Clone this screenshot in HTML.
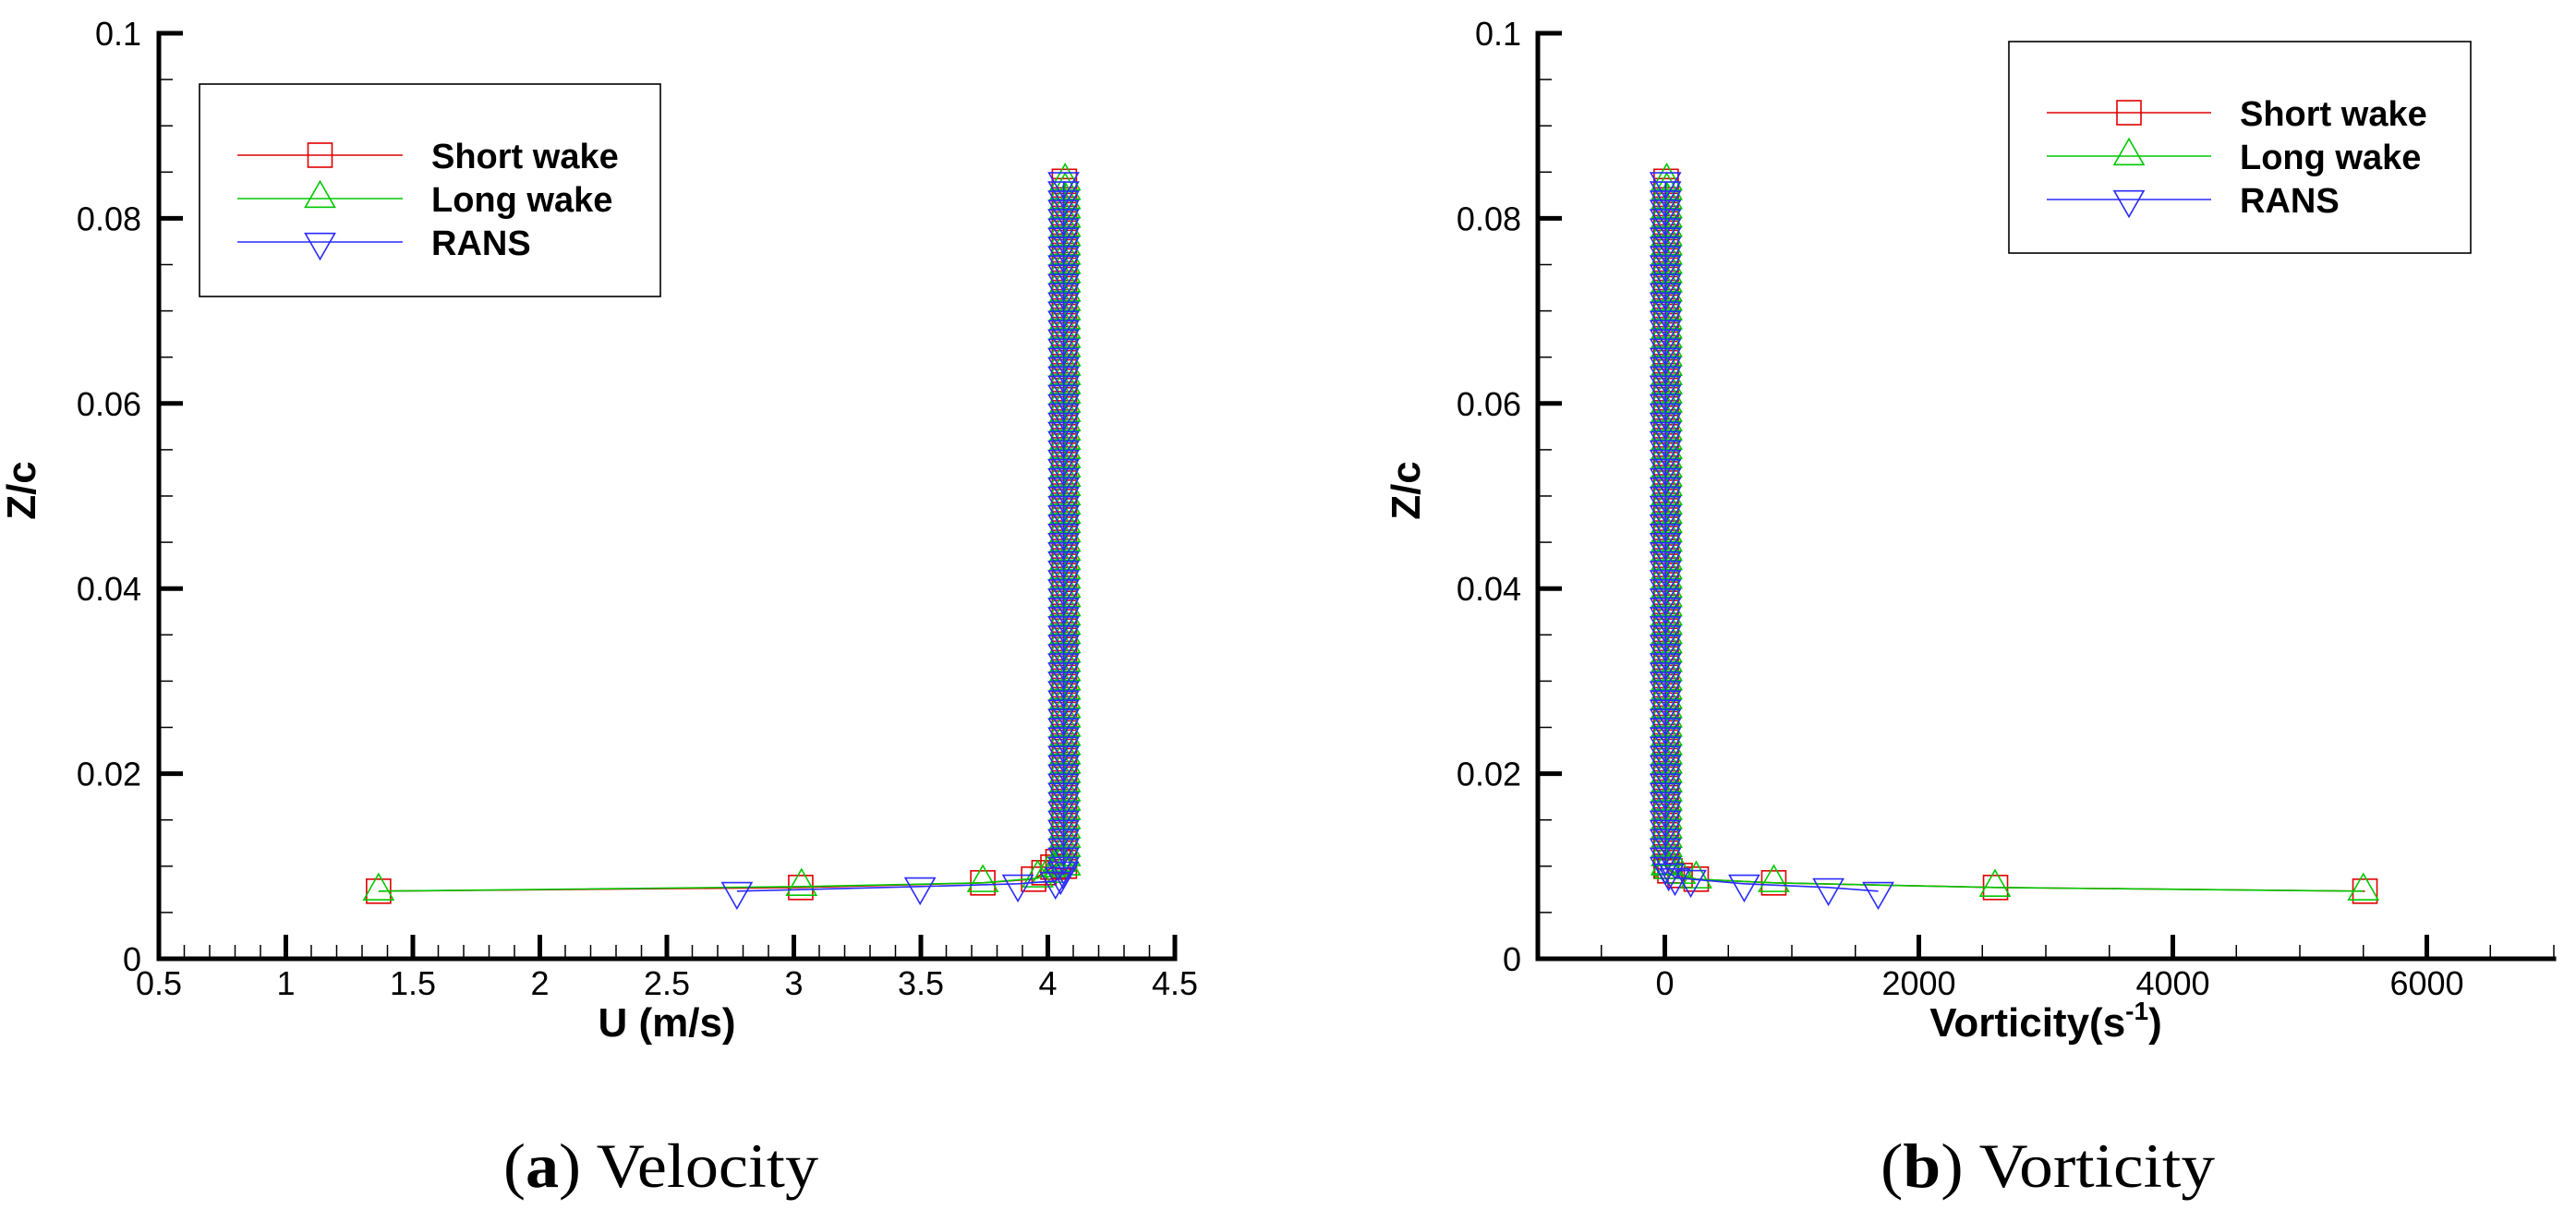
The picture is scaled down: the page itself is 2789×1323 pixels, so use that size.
<!DOCTYPE html>
<html><head><meta charset="utf-8"><style>
html,body{margin:0;padding:0;background:#fff;}
svg{display:block;}
</style></head><body>
<svg id="fig" width="2789" height="1323" viewBox="0 0 2789 1323" xmlns="http://www.w3.org/2000/svg" font-family="Liberation Sans, sans-serif">
<rect x="0" y="0" width="2789" height="1323" fill="#fff"/>
<g id="chartA"></g>
<g id="chartB"></g>
<text x="545" y="1285" font-family="Liberation Serif, serif" font-size="68" textLength="341" lengthAdjust="spacingAndGlyphs">(<tspan font-weight="bold">a</tspan>) Velocity</text>
<text x="2036" y="1285" font-family="Liberation Serif, serif" font-size="68" textLength="362" lengthAdjust="spacingAndGlyphs">(<tspan font-weight="bold">b</tspan>) Vorticity</text>
</svg>
<script>
// ---- data: chart A (velocity) ----
const aTicksX = [0.5,1,1.5,2,2.5,3,3.5,4,4.5];
const aTickLabelsX = ["0.5","1","1.5","2","2.5","3","3.5","4","4.5"];
const ticksZ = [0,0.02,0.04,0.06,0.08,0.1];
const tickLabelsZ = ["0","0.02","0.04","0.06","0.08","0.1"];
const aShortU = [1.365,3.027,3.744,3.944,3.985,4.02,4.04];
const aShortZ = [0.0073,0.0077,0.0082,0.0086,0.0093,0.0099,0.0105];
const aLongU = [1.365,3.03,3.744,3.96,4.0,4.03,4.05];
const aLongZ = [0.0073,0.0078,0.0082,0.0087,0.0092,0.0098,0.0104];
const aRansU = [2.776,3.497,3.882,4.03,4.05,4.06];
const aRansZ = [0.0073,0.0078,0.0081,0.0084,0.0089,0.0095];
const aColumnU = [4.065,4.068,4.062];
// ---- data: chart B (vorticity) ----
const bTicksX = [0,2000,4000,6000];
const bTickLabelsX = ["0","2000","4000","6000"];
const bShortW = [5513,2604,858,247,120,40,15];
const bShortZ = [0.0073,0.0077,0.0082,0.0086,0.0090,0.0095,0.0100];
const bLongW = [5500,2600,858,247,120,40,15];
const bLongZ = [0.0073,0.0077,0.0082,0.0086,0.0091,0.0096,0.0101];
const bRansW = [1680,1288,625,204,80,30];
const bRansZ = [0.0073,0.0077,0.0081,0.0086,0.0088,0.0093];
const bColumnW = [10,15,5];
// ---- shared column levels (Z/c) ----
const columnZ = [0.010,0.011,0.012,0.013,0.014,0.015,0.016,0.017,0.018,0.019,0.020,0.021,0.022,0.023,0.024,0.025,0.026,0.027,0.028,0.029,0.030,0.031,0.032,0.033,0.034,0.035,0.036,0.037,0.038,0.039,0.040,0.041,0.042,0.043,0.044,0.045,0.046,0.047,0.048,0.049,0.050,0.051,0.052,0.053,0.054,0.055,0.056,0.057,0.058,0.059,0.060,0.061,0.062,0.063,0.064,0.065,0.066,0.067,0.068,0.069,0.070,0.071,0.072,0.073,0.074,0.075,0.076,0.077,0.078,0.079,0.080,0.081,0.082,0.083,0.084];
const legendLabels = ["Short wake","Long wake","RANS"];

const NS = "http://www.w3.org/2000/svg";
const colors = ["#e00000","#00c800","#2a2aff"];
function mk(tag, attrs, parent){const e=document.createElementNS(NS,tag);for(const k in attrs)e.setAttribute(k,attrs[k]);parent.appendChild(e);return e;}
const Y0=1038, Y1=36;
function yScale(z){return Y0+(Y1-Y0)*(z/0.1);}

function marker(kind,cx,cy,col,parent){
  let e;
  if(kind===0){e=mk('rect',{x:cx-13,y:cy-13,width:26,height:26,fill:'none',stroke:col,'stroke-width':1.6},parent);}
  else if(kind===1){e=mk('polygon',{points:`${cx-16},${cy+9.3} ${cx+16},${cy+9.3} ${cx},${cy-18.7}`,fill:'none',stroke:col,'stroke-width':1.6},parent);}
  else {e=mk('polygon',{points:`${cx-16},${cy-9.3} ${cx+16},${cy-9.3} ${cx},${cy+18.7}`,fill:'none',stroke:col,'stroke-width':1.6},parent);}
  return e;
}

function drawChart(gid,x0,x1,v0,v1,ticksX,tickLabelsX,minorStep,series,colVals,labelRight,xTitle,zTitleX,legend){
  const g=document.getElementById(gid);
  const xs=v=>x0+(x1-x0)*(v-v0)/(v1-v0);
  series.forEach((s,i)=>{
    const sg=mk('g',{},g);
    
    
    const px=[],py=[];
    s[0].forEach((v,j)=>{px.push(xs(v));py.push(yScale(s[1][j]));});
    columnZ.forEach(z=>{px.push(xs(colVals[i]));py.push(yScale(z));});
    const pl=mk('polyline',{points:px.map((x,j)=>x+','+py[j]).join(' '),fill:'none',stroke:colors[i],'stroke-width':1.6},sg);
    
    
    px.forEach((x,j)=>{const m=marker(i,x,py[j],colors[i],sg);
      
      });
  });
  const ax=mk('g',{stroke:'#000'},g);
  
  
  mk('line',{x1:x0,y1:Y0,x2:x1+2.5,y2:Y0,'stroke-width':5},ax);
  mk('line',{x1:x0,y1:Y0+2.5,x2:x0,y2:Y1-2.5,'stroke-width':5},ax);
  for(let v=v0;v<=v1+1e-9;v+=minorStep){mk('line',{x1:xs(v),y1:Y0,x2:xs(v),y2:Y0-15,'stroke-width':1.5},ax);}
  ticksX.forEach((v,i)=>{mk('line',{x1:xs(v),y1:Y0,x2:xs(v),y2:Y0-26,'stroke-width':5},ax);
    const t=mk('text',{x:xs(v),y:1077,'text-anchor':'middle','font-size':36,stroke:'none',fill:'#000'},g);t.textContent=tickLabelsX[i];
    
    });
  for(let z=0;z<=0.1+1e-9;z+=0.005){mk('line',{x1:x0,y1:yScale(z),x2:x0+15,y2:yScale(z),'stroke-width':1.5},ax);}
  ticksZ.forEach((z,i)=>{mk('line',{x1:x0,y1:yScale(z),x2:x0+26,y2:yScale(z),'stroke-width':5},ax);
    const t=mk('text',{x:labelRight,y:yScale(z)+13,'text-anchor':'end','font-size':36,stroke:'none',fill:'#000'},g);t.textContent=tickLabelsZ[i];
    
    });
  const xt=mk('text',{x:(x0+x1)/2,y:1122,'text-anchor':'middle','font-size':44,'font-weight':'bold'},g);
  
  
  xt.innerHTML=xTitle;
  const zt=mk('text',{x:zTitleX,y:531,'text-anchor':'middle','font-size':44,'font-weight':'bold',transform:`rotate(-90 ${zTitleX} 531)`},g);
  zt.textContent='Z/c';
  
  
  const lg=mk('g',{},g);
  
  
  mk('rect',{x:legend.x,y:legend.y,width:legend.w,height:legend.h,fill:'#fff',stroke:'#000','stroke-width':1.6},lg);
  legendLabels.forEach((lab,i)=>{
    const e=mk('g',{},lg);
    
    
    const ry=legend.rows[i];
    mk('line',{x1:legend.l0,y1:ry,x2:legend.l1,y2:ry,stroke:colors[i],'stroke-width':1.6},e);
    marker(i,(legend.l0+legend.l1)/2,ry,colors[i],e);
    const t=mk('text',{x:legend.tx,y:ry+14,'font-size':38,'font-weight':'bold'},e);
    t.textContent=lab;
  });
}

drawChart('chartA',172,1272,0.5,4.5,aTicksX,aTickLabelsX,0.1,
  [[aShortU,aShortZ],[aLongU,aLongZ],[aRansU,aRansZ]],aColumnU,153,'U (m/s)',38,
  {x:216,y:91,w:499,h:230,rows:[168,215,262],l0:257,l1:436,tx:467});
drawChart('chartB',1665,2765,-1000,7000,bTicksX,bTickLabelsX,500,
  [[bShortW,bShortZ],[bLongW,bLongZ],[bRansW,bRansZ]],bColumnW,1647,'Vorticity(s<tspan font-size="28" dy="-18">-1</tspan><tspan dy="18">)</tspan>',1537,
  {x:2175,y:45,w:500,h:229,rows:[122,169,216],l0:2216,l1:2394,tx:2425});
</script>
</body></html>
